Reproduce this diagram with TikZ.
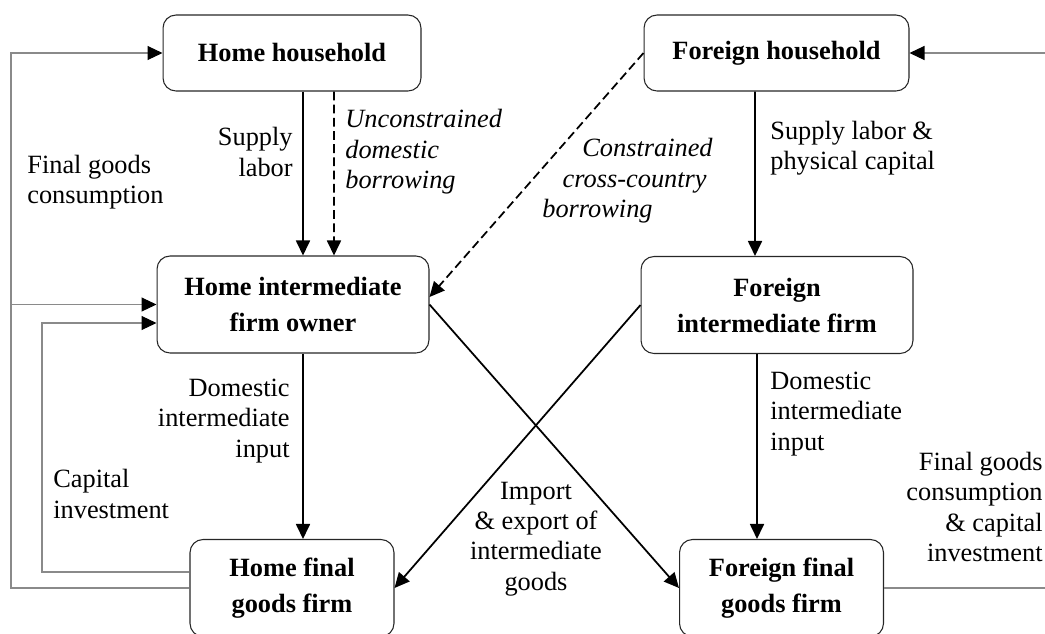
\documentclass[tikz,border=0pt]{standalone}
\usepackage{fontspec}
\setmainfont{Liberation Serif}
\usetikzlibrary{arrows.meta}
\definecolor{feedgray}{HTML}{8A8A8A}

\begin{document}
\begin{tikzpicture}[x=0.02cm,y=-0.02cm,
  box/.style={draw=black!85,line width=0.6pt,rounded corners=0.26cm,inner sep=0pt,
    minimum height=1.94cm,align=center,font=\fontsize{15}{20.5}\selectfont\bfseries},
  lbl/.style={inner sep=0pt,font=\fontsize{15}{17.3}\selectfont},
  arr/.style={-{Triangle[length=0.3cm,width=0.28cm,color=black]}},
  flow/.style={line width=1pt,arr},
  feed/.style={feedgray,line width=0.6pt}]
  \useasboundingbox (0,0) rectangle (1045,633);
  \node[box,minimum width=5.16cm,minimum height=1.52cm] (hh) at (292,53) {Home household};
  \node[box,minimum width=5.3cm,minimum height=1.52cm] (fh) at (776.5,53) {Foreign household};
  \node[box,minimum width=5.44cm] (hi) at (293,304.5) {Home intermediate\\firm owner};
  \node[box,minimum width=5.44cm] (fi) at (777,305) {Foreign\\intermediate firm};
  \node[box,minimum width=4.08cm] (hf) at (292,588) {Home final\\goods firm};
  \node[box,minimum width=4.08cm] (ff) at (781.5,588) {Foreign final\\goods firm};

  \node[lbl,anchor=east,align=right] (lsupply) at (293,152) {Supply\\labor};
  \node[lbl,anchor=west,align=left,font=\fontsize{15}{17.3}\selectfont\itshape] (lunc) at (345,152) {Unconstrained\\domestic\\borrowing};
  \node[lbl,anchor=west,align=left] (lfinal) at (27,182) {Final goods\\consumption};
  \node[lbl,anchor=east,align=right,font=\fontsize{15}{17.3}\selectfont\itshape] (lcons) at (713,181) {Constrained\\cross-country\kern0.12cm\\borrowing\kern1.2cm};
  \node[lbl,anchor=west,align=left] (lsupf) at (770,148) {Supply labor \&\\physical capital};
  \node[lbl,anchor=east,align=right] (ldomh) at (290,421) {Domestic\\intermediate\\input};
  \node[lbl,anchor=west,align=left] (lcap) at (53,494) {Capital\\investment};
  \node[lbl,anchor=west,align=left] (ldomf) at (770,414) {Domestic\\intermediate\\input};
  \node[lbl,align=center] (limp) at (536,539) {Import\\\& export of\\intermediate\\goods};
  \node[lbl,anchor=east,align=right] (lfin) at (1043,507) {Final goods\\consumption\\\& capital\\investment};

  \coordinate (outer) at (11,0);
  \coordinate (inner) at (42,0);
  \coordinate (rim) at (1045,0);
  \coordinate (hilow) at ([yshift=-0.37cm]hi.west);
  \coordinate (hfup) at ([yshift=0.32cm]hf.west);

  \draw[flow] ([xshift=0.22cm]hh.south) -- ([xshift=0.2cm]hi.north);
  \draw[flow,dash pattern=on 5pt off 2.5pt] ([xshift=0.84cm]hh.south) -- ([xshift=0.82cm]hi.north);
  \draw[flow] ([xshift=-0.43cm]fh.south) -- ([xshift=-0.44cm]fi.north);
  \draw[flow] ([xshift=0.2cm]hi.south) -- ([xshift=0.22cm]hf.north);
  \draw[flow] ([xshift=-0.4cm]fi.south) -- ([xshift=-0.49cm]ff.north);
  \draw[flow,dash pattern=on 5pt off 2.5pt] (fh.west) -- ([yshift=0.15cm]hi.east);
  \draw[flow] (hi.east) -- (ff.west);
  \draw[flow] (fi.west) -- (hf.east);

  \draw[feed,arr] (hf.west) -| (outer |- hh.west) -- (hh.west);
  \draw[feed,arr] (outer |- hi.west) -- (hi.west);
  \draw[feed,arr] (hfup) -| (inner |- hilow) -- (hilow);
  \draw[feed] (ff.east) -- (ff.east -| rim);
  \draw[feed,arr] (fh.east -| rim) -- (fh.east);
\end{tikzpicture}
\end{document}
